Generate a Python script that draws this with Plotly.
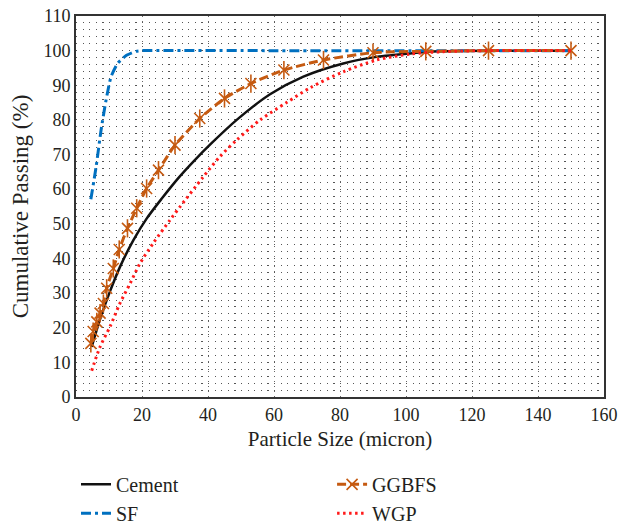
import plotly.graph_objects as go

# ---- data ----
cement_x = [4.75, 7.3, 10.3, 13.3, 17.4, 21.4, 26, 31, 36, 41, 48.7, 58.8, 68.9, 81, 91.1, 101.2, 110, 125, 150]
cement_y = [14.5, 22.5, 30.5, 37.5, 45.3, 51.5, 57.3, 63.2, 68.4, 73.2, 80.0, 87.4, 92.5, 96.3, 98.2, 99.2, 99.8, 100, 100]

ggbfs_x = [4.5, 5.2, 6.3, 7.3, 8.3, 9.3, 11.3, 13.1, 15.6, 18.4, 21.4, 25, 30, 37.5, 45, 53, 63, 75, 90, 106, 125, 150]
ggbfs_y = [15.5, 18.9, 21.7, 24.2, 27, 31.4, 37.1, 42.6, 48.7, 54.5, 60.2, 65.5, 72.7, 80.4, 86.2, 90.5, 94.4, 97.3, 99.4, 99.8, 100, 100]

sf_x = [4.5, 6.1, 7.6, 9.1, 10.6, 12.6, 15.2, 18.2, 20, 60, 150]
sf_y = [57.1, 66.5, 77.1, 85.7, 92.4, 96.3, 98.6, 99.8, 100, 100, 100]

wgp_x = [4.75, 7.3, 10.3, 13.3, 16.4, 19.4, 23.4, 28.5, 31.5, 38.6, 43.6, 48.7, 55.8, 63.8, 71, 81, 91.1, 101.2, 111.3, 125, 150]
wgp_y = [7.6, 14.5, 20.3, 27, 32.8, 38.6, 44.4, 51.1, 54.9, 63.6, 69.4, 74.2, 80, 85.0, 89.3, 93.9, 97.3, 99.0, 99.7, 100, 100]

x_ticks = [0, 20, 40, 60, 80, 100, 120, 140, 160]
y_ticks = [0, 10, 20, 30, 40, 50, 60, 70, 80, 90, 100, 110]

FONT = "Liberation Serif"
ORANGE = "#c55a11"
TXT = "#231f20"

fig = go.Figure()

fig.add_trace(go.Scatter(
    x=cement_x, y=cement_y, name="Cement", mode="lines", legend="legend",
    line=dict(color="#111111", width=2.5, shape="spline", smoothing=0.8)))

fig.add_trace(go.Scatter(
    x=sf_x, y=sf_y, name="SF", mode="lines", legend="legend",
    line=dict(color="#0070c0", width=3, dash="10px,4px,3px,4px", shape="spline", smoothing=0.5)))

fig.add_trace(go.Scatter(
    x=ggbfs_x, y=ggbfs_y, name="GGBFS", mode="lines+markers", legendgroup="g", legend="legend2",
    line=dict(color=ORANGE, width=3, dash="9px,4px", shape="spline", smoothing=0.6),
    marker=dict(symbol="x-thin-open", size=11, color=ORANGE, line=dict(color=ORANGE, width=1.6))))
fig.add_trace(go.Scatter(
    x=ggbfs_x, y=ggbfs_y, name="GGBFS", mode="markers", legendgroup="g", showlegend=False, legend="legend2",
    marker=dict(symbol="line-ns-open", size=13, color=ORANGE, line=dict(color=ORANGE, width=1.6))))

fig.add_trace(go.Scatter(
    x=wgp_x, y=wgp_y, name="WGP", mode="lines", legend="legend2",
    line=dict(color="#ff1a1a", width=3, dash="2.5px,3.5px", shape="spline", smoothing=0.8)))

fig.update_xaxes(
    range=[0, 160], tickvals=x_ticks, ticks="", showline=True, mirror=True,
    linecolor="#333333", linewidth=2, zeroline=False,
    showgrid=True, griddash="1px,4px", gridcolor="#666666", gridwidth=1,
    title=dict(text="Particle Size (micron)", font=dict(family=FONT, size=21, color=TXT), standoff=8),
    tickfont=dict(family=FONT, size=18, color=TXT))

fig.update_yaxes(
    range=[0, 110], tickvals=y_ticks, ticks="", showline=True, mirror=True,
    linecolor="#333333", linewidth=2, zeroline=False,
    showgrid=True, griddash="1.2px,5.4px", gridcolor="#555555", gridwidth=1,
    minor=dict(dtick=2, showgrid=True, griddash="1.2px,5.4px", gridcolor="#555555", gridwidth=1),
    title=dict(text="Cumulative Passing (%)", font=dict(family=FONT, size=23, color=TXT), standoff=8),
    tickfont=dict(family=FONT, size=18, color=TXT))

legend_common = dict(orientation="v", yanchor="top", xanchor="left",
                     font=dict(family=FONT, size=20, color=TXT),
                     bgcolor="rgba(0,0,0,0)", tracegroupgap=0)

fig.update_layout(
    width=622, height=525,
    margin=dict(l=76, r=18, t=16, b=128, autoexpand=False),
    plot_bgcolor="white", paper_bgcolor="white",
    font=dict(family=FONT, size=18, color=TXT),
    legend=dict(x=0.0, y=-0.178, **legend_common),
    legend2=dict(x=0.485, y=-0.178, **legend_common),
)

fig.write_html("out.html")
